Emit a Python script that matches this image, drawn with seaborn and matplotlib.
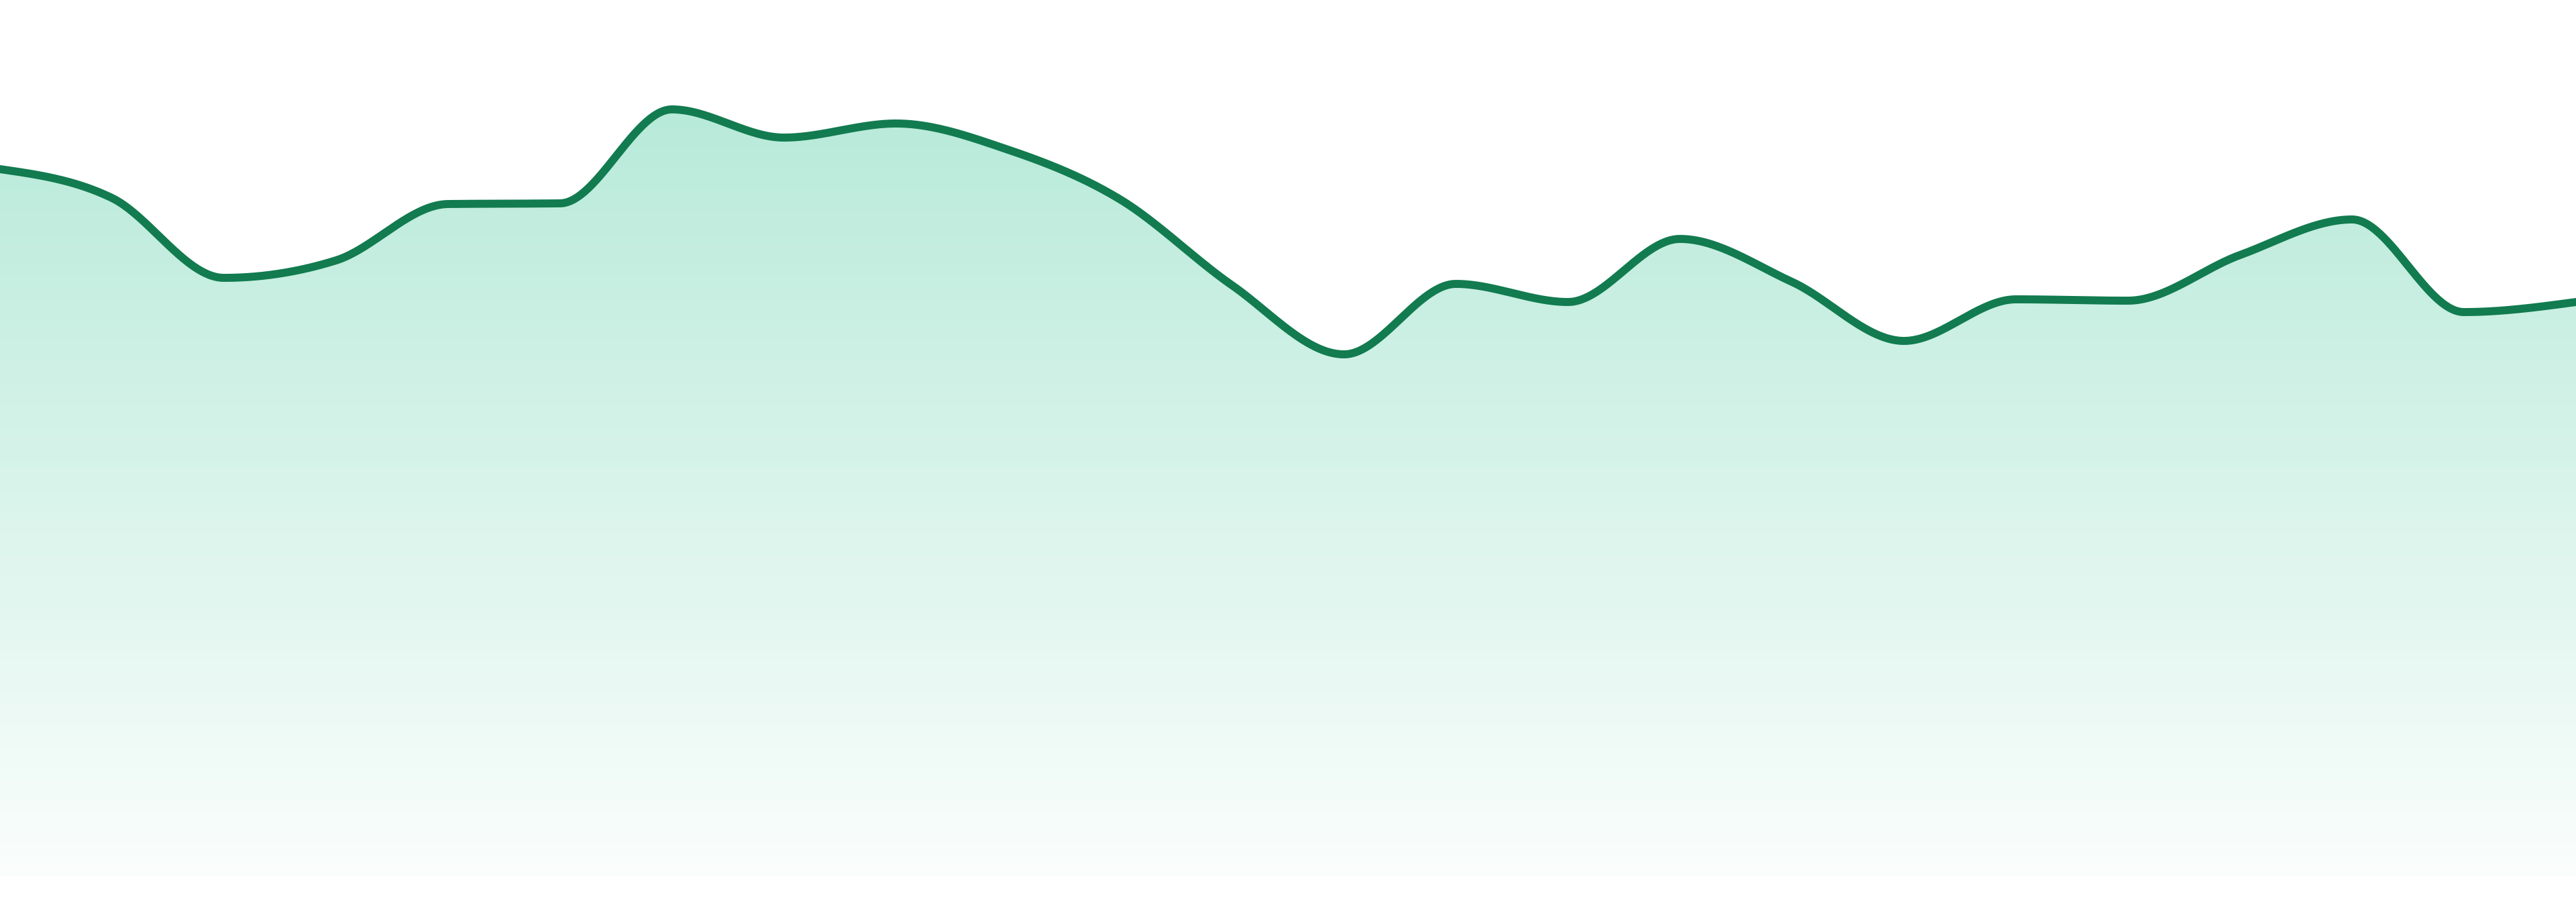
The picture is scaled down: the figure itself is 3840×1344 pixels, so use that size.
import numpy as np
import pandas as pd
import matplotlib
matplotlib.use("Agg")
import matplotlib.pyplot as plt
import seaborn as sns
from matplotlib.colors import to_rgb

# data (24 evenly spaced samples)
days = list(range(24))
values = [105.3, 101.0, 89.1, 91.7, 100.1, 100.2, 114.2, 110.0, 112.1, 108.2,
          100.8, 88.0, 77.7, 88.2, 85.5, 94.9, 88.5, 79.7, 85.9, 85.7,
          92.5, 97.8, 84.0, 85.5]

line_color = "#127b50"
fill_color = "#10b981"


def monotone_curve(xs, ys, steps=60):
    # d3 curveMonotoneX style smoothing (for drawing only)
    xs = np.asarray(xs, float)
    ys = np.asarray(ys, float)
    n = len(xs)
    h = np.diff(xs)
    s = np.diff(ys) / h
    t = np.zeros(n)
    for i in range(1, n - 1):
        p = (s[i - 1] * h[i] + s[i] * h[i - 1]) / (h[i - 1] + h[i])
        t[i] = (np.sign(s[i - 1]) + np.sign(s[i])) * min(abs(s[i - 1]), abs(s[i]), 0.5 * abs(p))
    t[0] = (3 * s[0] - t[1]) / 2
    t[-1] = (3 * s[-1] - t[-2]) / 2
    out_x, out_y = [], []
    for i in range(n - 1):
        u = np.linspace(0, 1, steps, endpoint=(i == n - 2))
        dx = h[i]
        p0, p3 = ys[i], ys[i + 1]
        p1 = p0 + dx / 3 * t[i]
        p2 = p3 - dx / 3 * t[i + 1]
        out_x.extend(xs[i] + dx * u)
        out_y.extend((1 - u) ** 3 * p0 + 3 * (1 - u) ** 2 * u * p1 + 3 * (1 - u) * u ** 2 * p2 + u ** 3 * p3)
    return np.array(out_x), np.array(out_y)


sx, sy = monotone_curve(days, values)
curve = pd.DataFrame({"day": sx, "value": sy})

sns.set_style("white")
fig = plt.figure(figsize=(19.2, 6.72), dpi=200)
ax = fig.add_axes([0, 39 / 1344, 1, 1305 / 1344])

ymax = 130.5
ax.set_xlim(0, 23)
ax.set_ylim(0, ymax)

# gradient area under the curve
poly = ax.fill_between(sx, sy, 0, color="none", lw=0)
top = max(values)
alpha = np.linspace(0.02, 0.30, 256).reshape(-1, 1)
img = np.zeros((256, 1, 4))
img[..., :3] = to_rgb(fill_color)
img[..., 3] = alpha
grad = ax.imshow(img, extent=[0, 23, 0, top], origin="lower", aspect="auto", zorder=1)
grad.set_clip_path(poly.get_paths()[0], transform=ax.transData)
ax.set_xlim(0, 23)
ax.set_ylim(0, ymax)

sns.lineplot(data=curve, x="day", y="value", ax=ax, color=line_color, lw=4.3,
             solid_capstyle="round", solid_joinstyle="round", zorder=3, sort=False)

ax.set_axis_off()
fig.savefig("out.png", dpi=200, facecolor="white")
